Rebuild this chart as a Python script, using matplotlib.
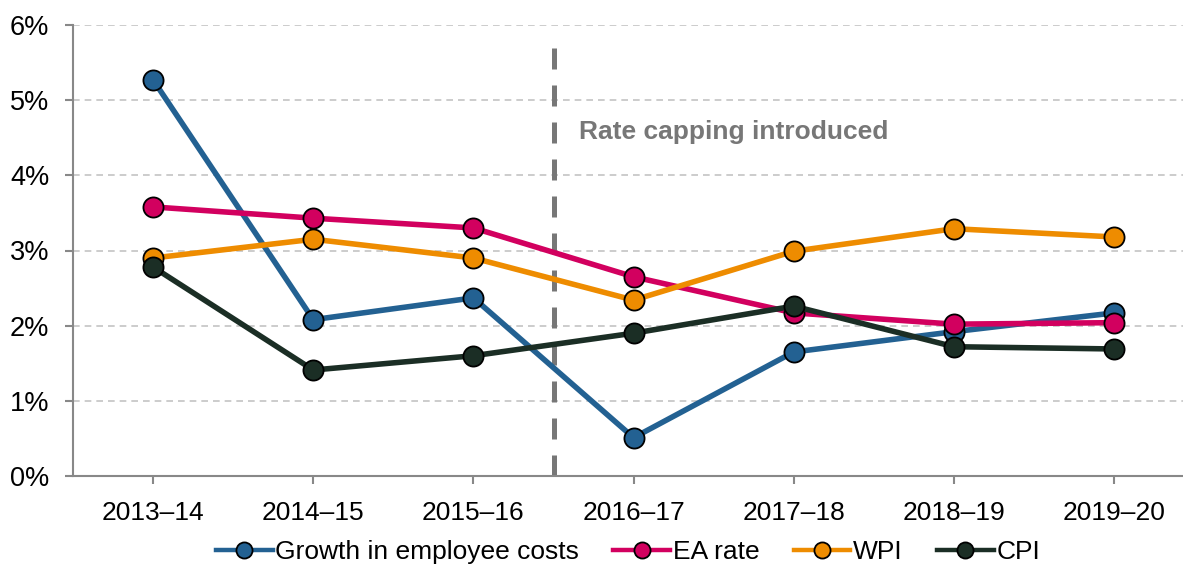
import matplotlib.pyplot as plt
from matplotlib.ticker import PercentFormatter

plt.rcParams['font.family'] = ['Liberation Sans', 'DejaVu Sans']

years = ["2013–14", "2014–15", "2015–16", "2016–17", "2017–18", "2018–19", "2019–20"]
employee_costs = [5.27, 2.08, 2.37, 0.51, 1.65, 1.92, 2.17]
ea_rate = [3.58, 3.43, 3.30, 2.65, 2.17, 2.02, 2.04]
wpi = [2.90, 3.15, 2.90, 2.34, 2.99, 3.29, 3.18]
cpi = [2.78, 1.41, 1.60, 1.90, 2.26, 1.72, 1.69]

series = [
    ("Growth in employee costs", employee_costs, "#236192"),
    ("EA rate", ea_rate, "#d2005f"),
    ("WPI", wpi, "#ee8c00"),
    ("CPI", cpi, "#1b2e25"),
]

fig = plt.figure(figsize=(11.83, 5.67), dpi=100)
ax = fig.add_axes([73 / 1183, 91 / 567, 1110 / 1183, 451 / 567])

x = list(range(len(years)))
for name, vals, col in series:
    ax.plot(x, vals, color=col, lw=4, marker="o", ms=14.5, mfc=col,
            mec="black", mew=1.3, label=name, zorder=3)

# rate capping marker
ax.axvline(2.5, ymin=0, ymax=5.82 / 6, color="#777777", lw=3.6,
           dashes=(4.2, 3.2), zorder=2)
ax.text(2.66, 4.57, "Rate capping introduced", color="#777777",
        fontsize=19, fontweight="bold", va="center")

ax.set_xlim(-0.5, 6.43)
ax.set_ylim(0, 6)
ax.set_xticks(x)
ax.set_xticklabels(years)
ax.set_yticks(range(0, 7))
ax.yaxis.set_major_formatter(PercentFormatter(decimals=0))
ax.grid(axis="y", color="#c4c4c4", ls=(0, (4, 3)), lw=1.2)
ax.set_axisbelow(True)

for s in ["top", "right"]:
    ax.spines[s].set_visible(False)
for s in ["left", "bottom"]:
    ax.spines[s].set_color("#888888")
    ax.spines[s].set_linewidth(1.5)
ax.tick_params(axis="both", colors="#888888", labelcolor="black",
               labelsize=19.5, length=6, width=1.5)
ax.tick_params(axis="y", pad=11)
ax.tick_params(axis="x", labelsize=19, pad=12)

leg = ax.legend(loc="center", bbox_to_anchor=(0.5, -0.168), ncol=4,
                frameon=False, fontsize=19, handlelength=2.15,
                handletextpad=0.1, columnspacing=1.3, borderaxespad=0,
                borderpad=0, markerscale=0.8)
for h in leg.legend_handles:
    h.set_linewidth(3.2)

fig.savefig("out.png", dpi=100)
